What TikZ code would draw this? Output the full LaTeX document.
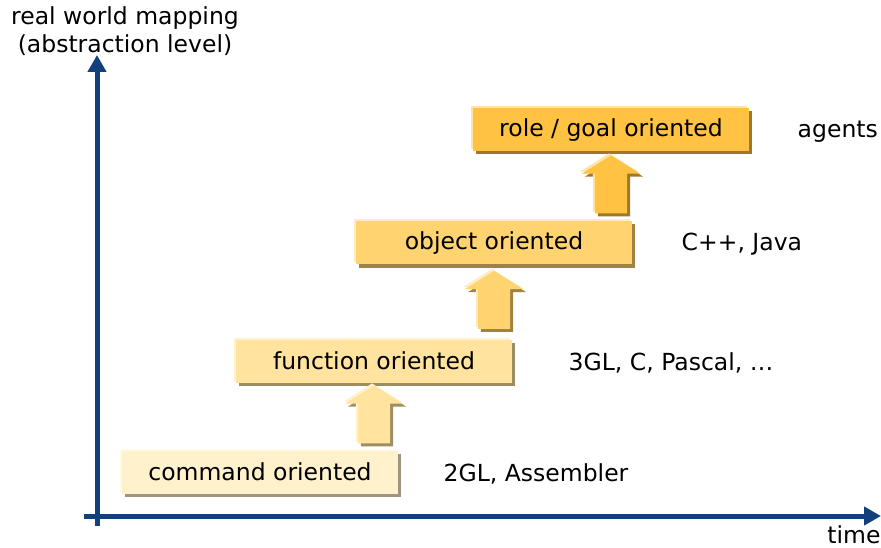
\documentclass[tikz,border=0pt]{standalone}
\usepackage{fontspec}
\setmainfont{DejaVu Sans}
\usetikzlibrary{arrows.meta, positioning, calc, shapes.arrows, shadows}

% ===== Colors =====
\definecolor{axisblue}{RGB}{18,64,124}
\definecolor{cmdfill}{RGB}{255,241,204}
\definecolor{funfill}{RGB}{255,227,158}
\definecolor{objfill}{RGB}{255,212,112}
\definecolor{rolefill}{RGB}{255,194,66}

\begin{document}
\begin{tikzpicture}[
    x=1pt, y=-1pt,
    font=\fontsize{23.5}{28}\selectfont,
    shade3d/.style={
        general shadow={shadow xshift=3pt, shadow yshift=-3pt, fill=#1!62!black},
        general shadow={shadow xshift=-2pt, shadow yshift=2pt, fill=#1!45!white}},
    levelbox/.style={fill=#1, shade3d=#1, minimum width=276pt, minimum height=43pt, inner sep=0pt},
    uparrow/.style={single arrow, shape border rotate=90, fill=#1, shade3d=#1,
        minimum height=58pt, minimum width=58pt, single arrow head extend=13pt,
        single arrow tip angle=116, inner xsep=16pt, inner ysep=16pt},
    axis/.style={line width=5pt, draw=axisblue, -{Triangle[length=17pt, width=18pt]}},
]

\useasboundingbox (0,0) rectangle (881,548);

% ===== Axes =====
\coordinate (origin) at (97,516);
\coordinate (ytop) at (97,55);
\coordinate (xend) at (881,516);
\draw[axis] (97,526) -- (ytop);
\draw[axis] (84,516) -- (xend);

\node[align=center] (ylabel) at (125,31) {real world mapping\\(abstraction level)};
\node (xlabel) at (854,535) {time};

% ===== Levels =====
\node[levelbox=cmdfill]  (cmd)  at (260,472) {command oriented};
\node[levelbox=funfill]  (fun)  at (374,361) {function oriented};
\node[levelbox=objfill]  (obj)  at (494,243) {object oriented};
\node[levelbox=rolefill] (role) at (611,130) {role / goal oriented};

% languages next to each level
\node[anchor=west] (cmdlang)  at ($(cmd.east)+(42,2)$)  {2GL, Assembler};
\node[anchor=west] (funlang)  at ($(fun.east)+(53,2)$)  {3GL, C, Pascal, \dots};
\node[anchor=west] (objlang)  at ($(obj.east)+(46,1)$)  {C++, Java};
\node[anchor=west] (rolelang) at ($(role.east)+(45,2)$) {agents};

% ===== Arrows between levels =====
\foreach \lo/\hi/\col in {cmd/fun/funfill, fun/obj/objfill, obj/role/rolefill} {
    \node[uparrow=\col, yshift=-3pt] (\lo-\hi) at ($(\hi.south)!0.5!(\hi.south |- \lo.north)$) {};
}

\end{tikzpicture}
\end{document}
